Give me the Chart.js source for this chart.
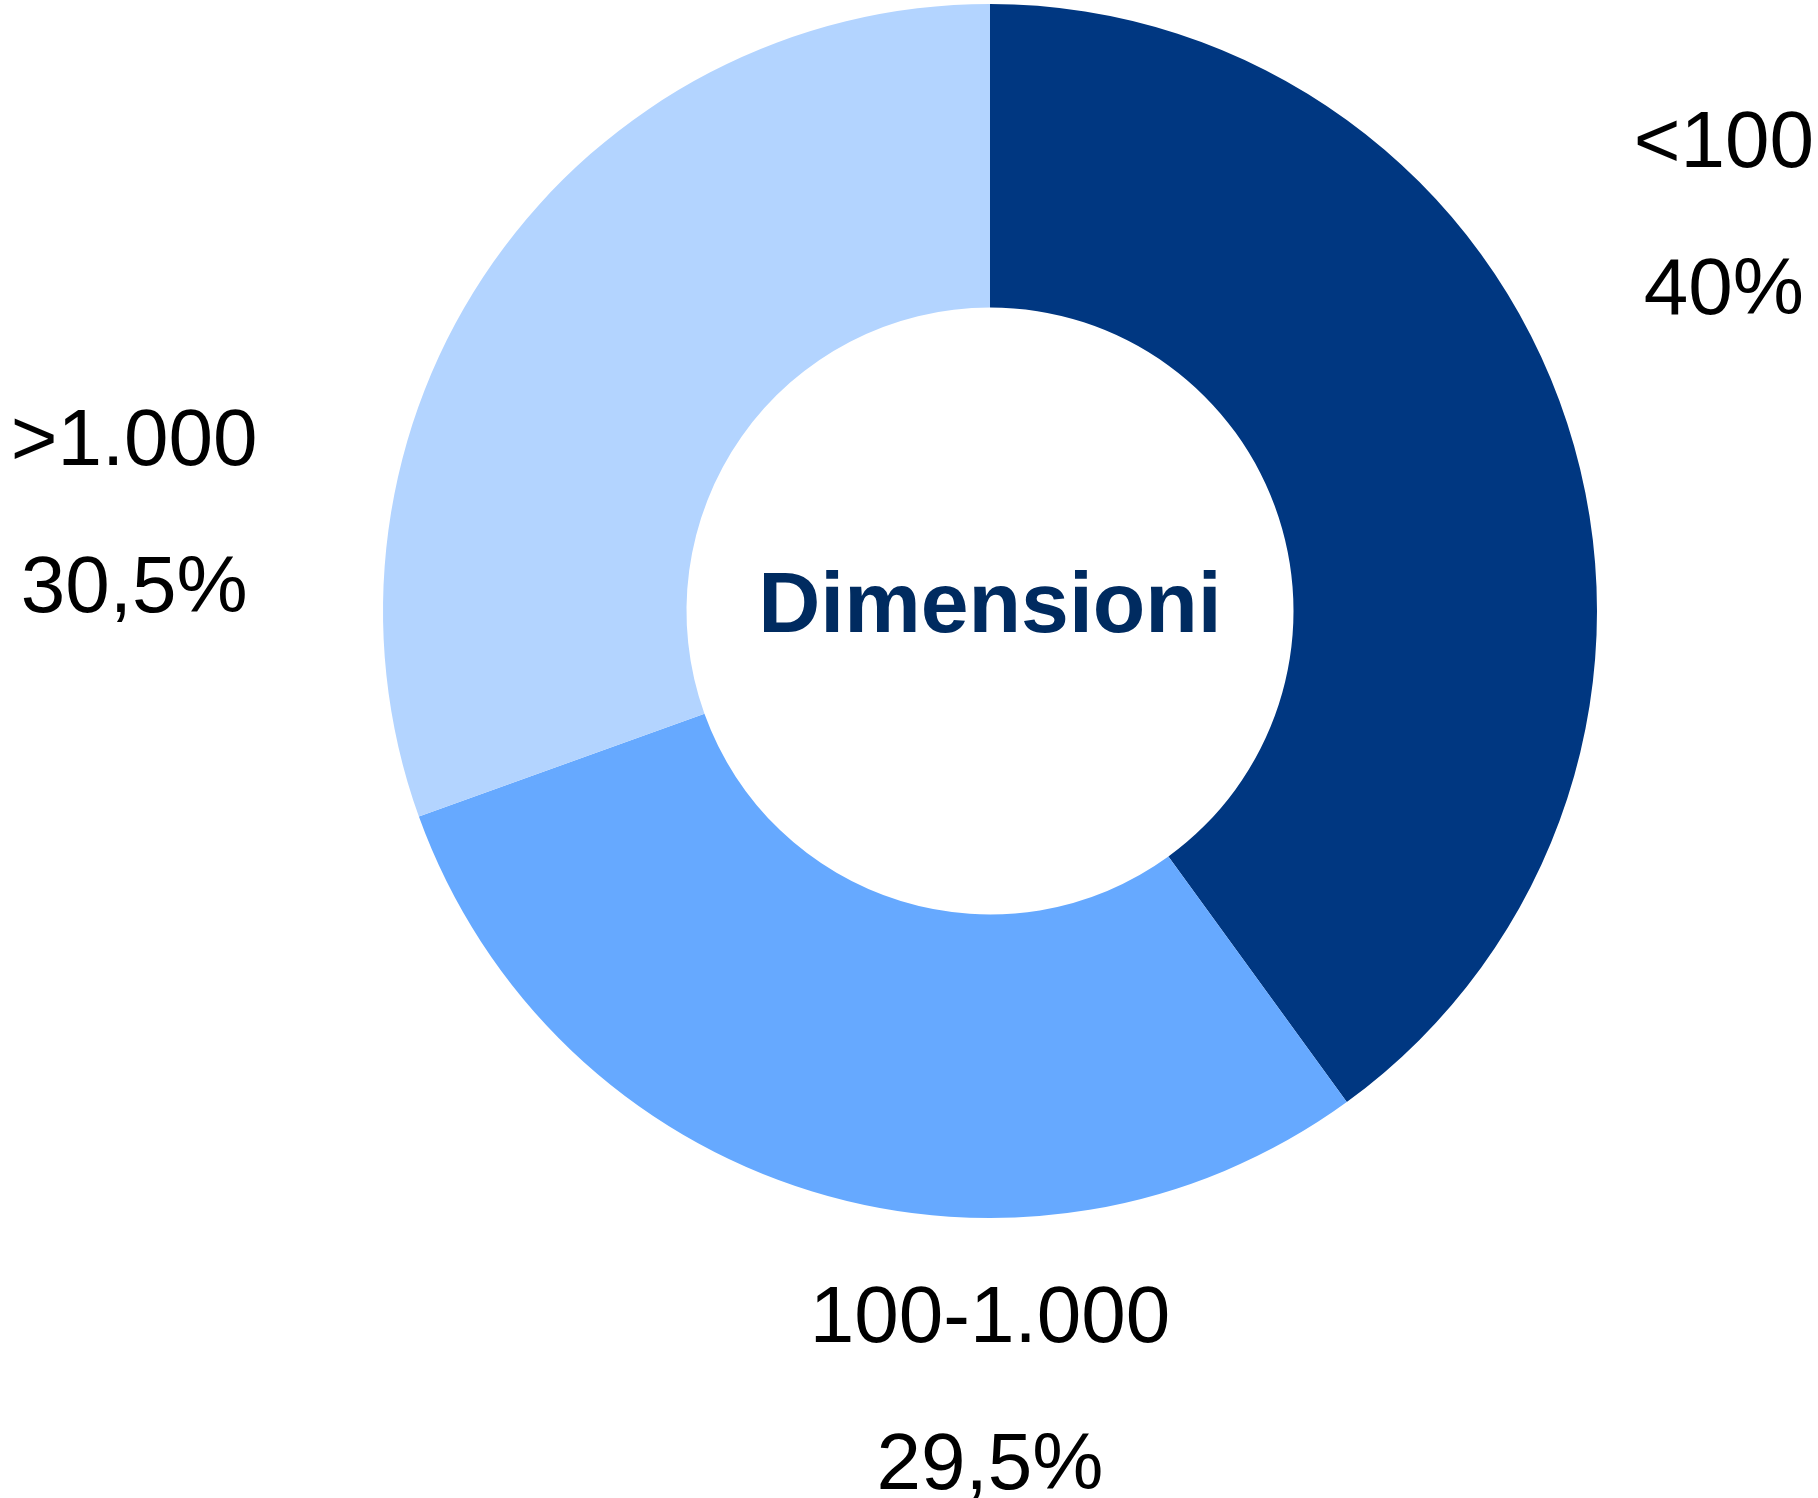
<!DOCTYPE html>
<html lang="it">
<head>
    <meta charset="UTF-8">
    <title>Dimensioni</title>
    <script src="https://cdn.jsdelivr.net/npm/chart.js"></script>
    <style>
        html, body { margin: 0; padding: 0; background: white; }
        #chart-container { width: 1818px; height: 1498px; }
    </style>
</head>
<body>
    <div id="chart-container">
        <canvas id="dimChart"></canvas>
    </div>

    <script>
        const categories = ['<100', '100-1.000', '>1.000'];
        const values = [40, 29.5, 30.5];
        const valueLabels = ['40%', '29,5%', '30,5%'];
        const colors = ['#003781', '#66A9FF', '#B3D4FF'];
        const centerTitle = 'Dimensioni';

        // label anchor relative to the doughnut centre, in outer radius units
        const labelPos = [
            { x: 1.209, y: -0.731 },
            { x: 0.0, y: 1.204 },
            { x: -1.410, y: -0.241 }
        ];

        const labelsPlugin = {
            id: 'outsideLabels',
            afterDatasetsDraw(chart) {
                const { ctx } = chart;
                const meta = chart.getDatasetMeta(0);
                const arc = meta.data[0];
                const cx = arc.x, cy = arc.y, r = arc.outerRadius;
                ctx.save();
                ctx.textAlign = 'center';
                ctx.textBaseline = 'alphabetic';
                ctx.fillStyle = '#000000';
                ctx.font = '80px "Liberation Sans", Arial, sans-serif';
                meta.data.forEach((el, i) => {
                    const x = cx + labelPos[i].x * r;
                    const y = cy + labelPos[i].y * r;
                    ctx.fillText(categories[i], x, y);
                    ctx.fillText(valueLabels[i], x, y + 147);
                });
                ctx.fillStyle = '#002B60';
                ctx.font = 'bold 86px "Liberation Sans", Arial, sans-serif';
                ctx.fillText(centerTitle, cx, cy + 21);
                ctx.restore();
            }
        };

        new Chart(document.getElementById('dimChart'), {
            type: 'doughnut',
            data: {
                labels: categories,
                datasets: [{
                    data: values,
                    backgroundColor: colors,
                    borderWidth: 0
                }]
            },
            options: {
                responsive: true,
                maintainAspectRatio: false,
                animation: false,
                cutout: '50%',
                layout: {
                    padding: { left: 383, right: 221, top: 4, bottom: 280 }
                },
                plugins: {
                    legend: { display: false },
                    tooltip: { enabled: false }
                }
            },
            plugins: [labelsPlugin]
        });
    </script>
</body>
</html>
